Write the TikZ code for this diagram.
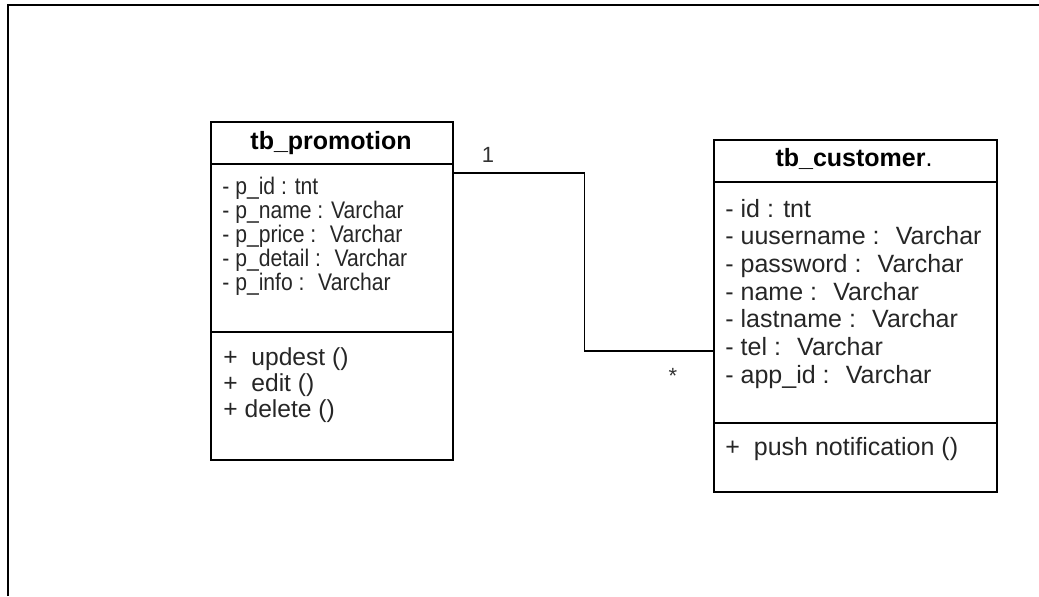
\documentclass[tikz,border=0pt]{standalone}
\usepackage{fontspec}
\setmainfont{Liberation Sans}
\newfontfamily\narrowfont[FakeStretch=0.88]{Liberation Sans}

\begin{document}
\begin{tikzpicture}[
    x = 0.5pt, y = -0.5pt,
    frame/.style = {line width = 1pt},
    classbox/.style = {draw, line width = 0.8pt, inner sep = 0pt, anchor = north west},
    title/.style = {font = \fontsize{12.5}{15}\selectfont\bfseries, anchor = base, inner sep = 0pt},
    pattr/.style = {font = \narrowfont\fontsize{12}{14}\selectfont, text = black!85, anchor = base west, inner sep = 0pt},
    cattr/.style = {font = \fontsize{12.5}{15}\selectfont, text = black!85, anchor = base west, inner sep = 0pt},
    meth/.style = {font = \fontsize{12.3}{14}\selectfont, text = black!85, anchor = base west, inner sep = 0pt},
    link/.style = {line width = 0.75pt},
    mult/.style = {font = \fontsize{11}{13}\selectfont, text = black!80, inner sep = 0pt}
  ]
  \useasboundingbox (0,0) rectangle (1039,596);

  \draw[frame] (8,596) -- (8,5) -- (1039,5);

  % tb_promotion
  \node[classbox, minimum width = 121pt, minimum height = 169pt] (promo) at (210,121) {};
  \node[title] (promo-title) at (331,149) {tb\_promotion};
  \draw[classbox] (promo.west |- 0,164) -- (promo.east |- 0,164);
  \draw[classbox] (promo.west |- 0,332) -- (promo.east |- 0,332);
  \foreach \t [count=\i from 0] in {- p\_id : tnt, - p\_name : Varchar, - p\_price : \ Varchar,
      - p\_detail : \ Varchar, - p\_info : \ Varchar}
    \node[pattr] (pa\i) at (222,194+24*\i) {\t};
  \foreach \t [count=\i from 0] in {+ \ updest (), + \ edit (), + delete ()}
    \node[meth] (pm\i) at (223,365+26*\i) {\t};

  % tb_customer
  \node[classbox, minimum width = 141.5pt, minimum height = 176pt] (cust) at (713,139) {};
  \node[title] (cust-title) at (854,166) {tb\_customer{\mdseries.}};
  \draw[classbox] (cust.west |- 0,182) -- (cust.east |- 0,182);
  \draw[classbox] (cust.west |- 0,423) -- (cust.east |- 0,423);
  \foreach \t [count=\i from 0] in {- id : tnt, - uusername : \ Varchar, - password : \ Varchar,
      - name : \ Varchar, - lastname : \ Varchar, - tel : \ Varchar, - app\_id : \ Varchar}
    \node[cattr] (ca\i) at (725,217+27.7*\i) {\t};
  \node[meth, font = \fontsize{12.5}{15}\selectfont] (cm0) at (725,455) {+ \ push notification ()};

  % association
  \coordinate (p-out) at (promo.east |- 0,173);
  \coordinate (c-in) at (cust.west |- 0,351);
  \draw[link] (p-out) -- ++(131,0) |- (c-in);
  \node[mult] (m-one) at (488,155) {1};
  \node[mult] (m-many) at (673,376) {*};

\end{tikzpicture}
\end{document}
